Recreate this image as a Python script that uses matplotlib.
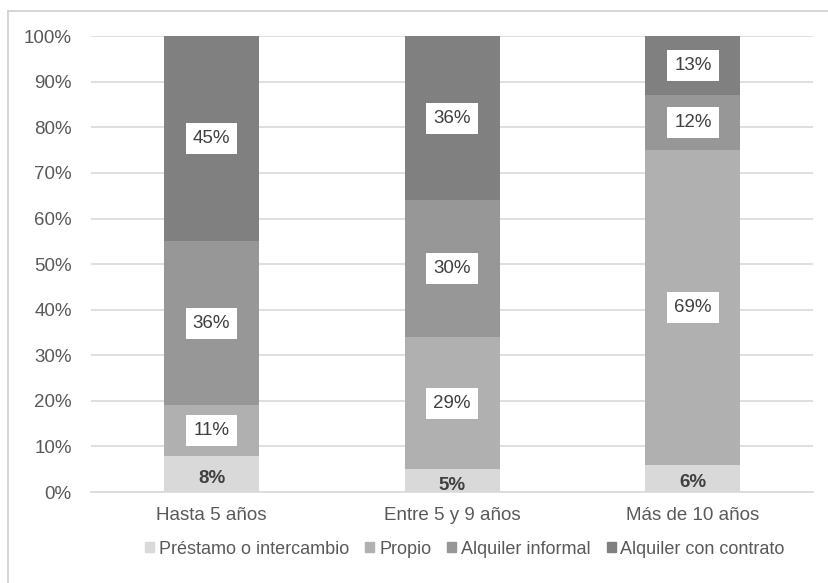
import numpy as np
from matplotlib import pyplot as plt
from matplotlib.lines import Line2D

categories = ['Hasta 5 años', 'Entre 5 y 9 años', 'Más de 10 años']
series_names = ['Préstamo o intercambio', 'Propio', 'Alquiler informal', 'Alquiler con contrato']
prestamo = [8, 5, 6]
propio = [11, 29, 69]
alquiler_informal = [36, 30, 12]
alquiler_contrato = [45, 36, 13]
colors = ['#d9d9d9', '#b0b0b0', '#979797', '#808080']

text_color = '#404040'
tick_color = '#595959'

plt.rcParams['font.family'] = ['Liberation Sans', 'DejaVu Sans']

fig = plt.figure(figsize=(8.29, 5.83), dpi=100)
ax = fig.add_axes([0.110, 0.156, 0.871, 0.782])

x = np.arange(len(categories))
width = 0.395
bottom = np.zeros(len(categories))
all_series = [prestamo, propio, alquiler_informal, alquiler_contrato]

for i, (name, vals, col) in enumerate(zip(series_names, all_series, colors)):
    vals = np.array(vals, dtype=float)
    ax.bar(x, vals, width, bottom=bottom, color=col, label=name, zorder=2)
    for xi, b, v in zip(x, bottom, vals):
        if i == 0:
            # small base segments: label sits a bit lower, no box
            ax.text(xi, b + v / 2 - 1.0, f'{v:.0f}%', ha='center', va='center',
                    fontsize=13.5, fontweight='bold', color=text_color, zorder=3)
        else:
            ax.text(xi, b + v / 2, f'{v:.0f}%', ha='center', va='center',
                    fontsize=13.5, color=text_color, zorder=3,
                    bbox=dict(boxstyle='square,pad=0.38', fc='white', ec='none'))
    bottom += vals

ax.set_xlim(-0.5, len(categories) - 0.5)
ax.set_ylim(0, 100)
ax.set_yticks(np.arange(0, 101, 10))
ax.set_yticklabels([f'{t}%' for t in range(0, 101, 10)])
ax.set_xticks(x)
ax.set_xticklabels(categories)
ax.tick_params(axis='both', length=0, labelsize=13.5, colors=tick_color)
ax.tick_params(axis='y', pad=14)
ax.tick_params(axis='x', pad=11)
ax.yaxis.grid(True, color='#d9d9d9', linewidth=1.2, zorder=0)
ax.set_axisbelow(True)
for s in ['top', 'right', 'left']:
    ax.spines[s].set_visible(False)
ax.spines['bottom'].set_color('#d9d9d9')
ax.spines['bottom'].set_linewidth(1.2)

handles = [plt.Rectangle((0, 0), 1, 1, color=c) for c in colors]
leg = fig.legend(handles, series_names, loc='center', bbox_to_anchor=(0.561, 0.058),
                 ncol=4, frameon=False, fontsize=13, handlelength=0.5, handleheight=0.5,
                 handletextpad=0.25, columnspacing=0.9)
for t in leg.get_texts():
    t.set_color(tick_color)

# light frame around the chart area
fig.add_artist(Line2D([8 / 829, 8 / 829], [0, 1 - 11 / 583], color='#d0d0d0', lw=1.2))
fig.add_artist(Line2D([8 / 829, 1], [1 - 11 / 583, 1 - 11 / 583], color='#d0d0d0', lw=1.2))

fig.savefig('out.png', dpi=100)
